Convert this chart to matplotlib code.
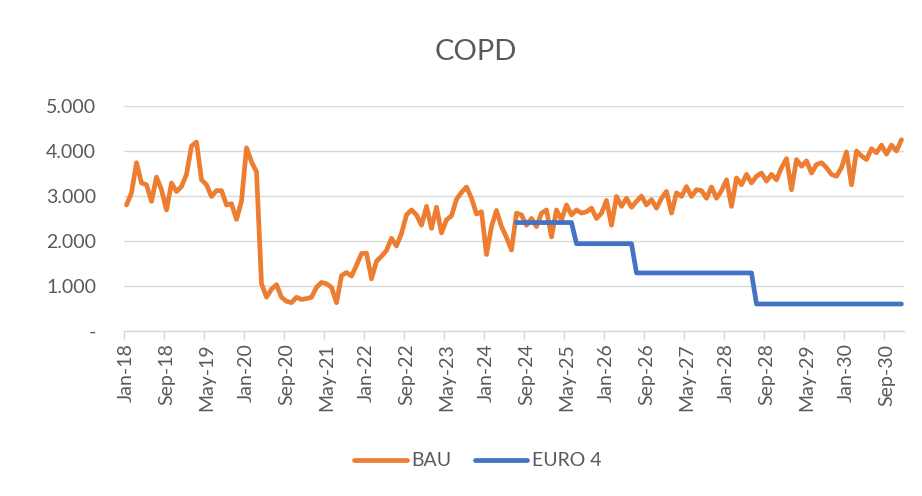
import matplotlib
matplotlib.use("Agg")
import matplotlib.pyplot as plt
import numpy as np
from matplotlib.ticker import FuncFormatter, FixedLocator

plt.rcParams['font.family'] = ['Lato', 'DejaVu Sans']

# ---- data -------------------------------------------------------------
# monthly values, Jan-18 .. Dec-30 (156 months)
bau = [
    2800, 3070, 3740, 3290, 3250, 2880, 3420, 3140, 2690, 3290, 3100, 3210, 3480,
    4110, 4200, 3360, 3250, 2990, 3120, 3120, 2800, 2830, 2480, 2880, 4070, 3760,
    3540, 1050, 750, 930, 1030, 750, 660, 630, 750, 700, 720, 750, 970,
    1080, 1050, 970, 630, 1230, 1300, 1220, 1460, 1720, 1730, 1160, 1550, 1660,
    1790, 2060, 1890, 2170, 2580, 2690, 2580, 2350, 2770, 2280, 2750, 2180, 2470,
    2560, 2930, 3080, 3200, 2950, 2600, 2650, 1700, 2320, 2680, 2320, 2080, 1800,
    2620, 2580, 2350, 2500, 2320, 2620, 2690, 2090, 2690, 2470, 2800, 2580, 2690,
    2620, 2650, 2730, 2500, 2620, 2900, 2350, 2990, 2770, 2950, 2750, 2880, 3000,
    2800, 2920, 2730, 2950, 3100, 2620, 3070, 2990, 3210, 2990, 3140, 3120, 2950,
    3200, 2950, 3120, 3360, 2770, 3400, 3250, 3480, 3290, 3440, 3510, 3330, 3480,
    3360, 3630, 3830, 3140, 3810, 3660, 3780, 3510, 3700, 3740, 3630, 3480, 3440,
    3630, 3980, 3250, 4000, 3890, 3810, 4050, 3960, 4130, 3930, 4130, 4000, 4250,
]

# EURO 4 scenario, starting Jul-24 (month index 78) .. Dec-30
euro4_start = 78
euro4 = [
    2410, 2410, 2410, 2410, 2410, 2410, 2410, 2410, 2410, 2410, 2410, 2410,
    1940, 1940, 1940, 1940, 1940, 1940, 1940, 1940, 1940, 1940, 1940, 1940,
    1290, 1290, 1290, 1290, 1290, 1290, 1290, 1290, 1290, 1290, 1290, 1290,
    1290, 1290, 1290, 1290, 1290, 1290, 1290, 1290, 1290, 1290, 1290, 1290,
    600, 600, 600, 600, 600, 600, 600, 600, 600, 600, 600, 600, 600, 600, 600,
    600, 600, 600, 600, 600, 600, 600, 600, 600, 600, 600, 600, 600, 600, 600,
]

tick_labels = ['Jan-18', 'Sep-18', 'May-19', 'Jan-20', 'Sep-20', 'May-21', 'Jan-22',
               'Sep-22', 'May-23', 'Jan-24', 'Sep-24', 'May-25', 'Jan-26', 'Sep-26',
               'May-27', 'Jan-28', 'Sep-28', 'May-29', 'Jan-30', 'Sep-30']
label_step = 8
y_ticks = [0, 1000, 2000, 3000, 4000, 5000]

# ---- styling ------------------------------------------------------------
ORANGE = '#ED7D31'
BLUE = '#4472C4'
GRID = '#D9D9D9'
TEXT = '#595959'

fig = plt.figure(figsize=(9.22, 4.96), dpi=100)
ax = fig.add_axes([124 / 922, 1 - 331 / 496, (904 - 124) / 922, (331 - 106) / 496])

x_bau = np.arange(len(bau))
x_euro = np.arange(euro4_start, euro4_start + len(euro4))

ax.plot(x_bau, bau, color=ORANGE, lw=3.4, solid_capstyle='round',
        solid_joinstyle='round', label='BAU', zorder=3)
ax.plot(x_euro, euro4, color=BLUE, lw=3.4, solid_capstyle='round',
        solid_joinstyle='round', label='EURO 4', zorder=4)

ax.set_xlim(-0.5, len(bau) - 0.5)
ax.set_ylim(0, 5000)

# y axis
ax.set_yticks(y_ticks)
ax.yaxis.set_major_formatter(FuncFormatter(
    lambda v, p: '-' if v == 0 else f'{int(v):,}'.replace(',', '.')))
ax.tick_params(axis='y', length=0, pad=20, labelsize=14, labelcolor=TEXT)
ax.grid(axis='y', color=GRID, lw=1.0)
ax.set_axisbelow(True)

# x axis: labels at category centres, tick marks at category boundaries
major = [i * label_step for i in range(len(tick_labels))]
ax.xaxis.set_major_locator(FixedLocator(major))
ax.set_xticklabels(tick_labels, rotation=90)
ax.xaxis.set_minor_locator(FixedLocator([m - 0.5 for m in major]))
ax.tick_params(axis='x', which='major', length=0, pad=9, labelsize=14, labelcolor=TEXT)
ax.tick_params(axis='x', which='minor', length=6, width=1.0, color=GRID)

for s in ['top', 'right', 'left']:
    ax.spines[s].set_visible(False)
ax.spines['bottom'].set_color(GRID)
ax.spines['bottom'].set_linewidth(1.0)

fig.text(476 / 922, 1 - 52 / 496, 'COPD', ha='center', va='center',
         fontsize=21, color=TEXT)

leg = fig.legend(loc='center', bbox_to_anchor=(478 / 922, 1 - 461 / 496),
                 ncol=2, frameon=False, fontsize=14, handlelength=2.7,
                 handletextpad=0.25, columnspacing=1.2, labelcolor=TEXT)

fig.savefig('out.png', dpi=100, facecolor='white')
